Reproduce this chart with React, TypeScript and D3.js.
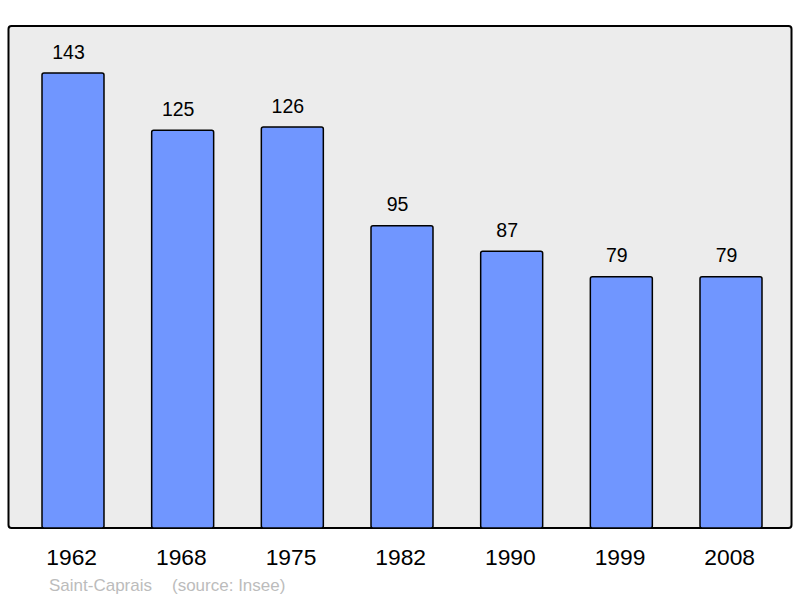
import React from 'react'
import * as d3 from 'd3'

const years = ['1962', '1968', '1975', '1982', '1990', '1999', '2008']
const population = [143, 125, 126, 95, 87, 79, 79]
const placeName = 'Saint-Caprais'
const sourceNote = '(source: Insee)'

const width = 800
const height = 598
const font = '"Liberation Sans", Arial, sans-serif'

const App = () => {
  const x = d3.scaleBand().domain(years).range([42, 762]).paddingInner(0.4347).paddingOuter(0)
  const y = d3.scaleLinear().domain([0, d3.max(population)]).range([528, 73])
  const mid = (yr) => x(yr) + x.bandwidth() / 2

  return (
    <svg
      width={width}
      height={height}
      style={{ position: 'absolute', left: 0, top: 0 }}
    >
      <rect x={0} y={0} width={width} height={height} fill="#fff" />
      <rect
        x={8.5}
        y={26}
        width={783}
        height={502}
        rx={3}
        fill="#ececec"
        stroke="#000"
        strokeWidth={2}
      />
      {years.map((yr, i) => (
        <g key={yr}>
          <rect
            x={x(yr)}
            y={y(population[i])}
            width={x.bandwidth()}
            height={y(0) - y(population[i])}
            rx={2}
            fill="#7096ff"
            stroke="#000"
            strokeWidth={1.5}
          />
          {/* value labels sit a little left of the bar centre in the original */}
          <text
            x={mid(yr) - 4.5}
            y={y(population[i]) - 14.5}
            textAnchor="middle"
            fontFamily={font}
            fontSize={19.5}
            fill="#000"
          >
            {population[i]}
          </text>
          <text
            x={mid(yr) - 1.3}
            y={565}
            textAnchor="middle"
            fontFamily={font}
            fontSize={22.8}
            fill="#000"
          >
            {yr}
          </text>
        </g>
      ))}
      <text x={49} y={590.5} fontFamily={font} fontSize={17} fill="#bcbcbc">
        {placeName}
      </text>
      <text x={172} y={590.5} fontFamily={font} fontSize={17} fill="#bcbcbc">
        {sourceNote}
      </text>
    </svg>
  )
}

export default App
